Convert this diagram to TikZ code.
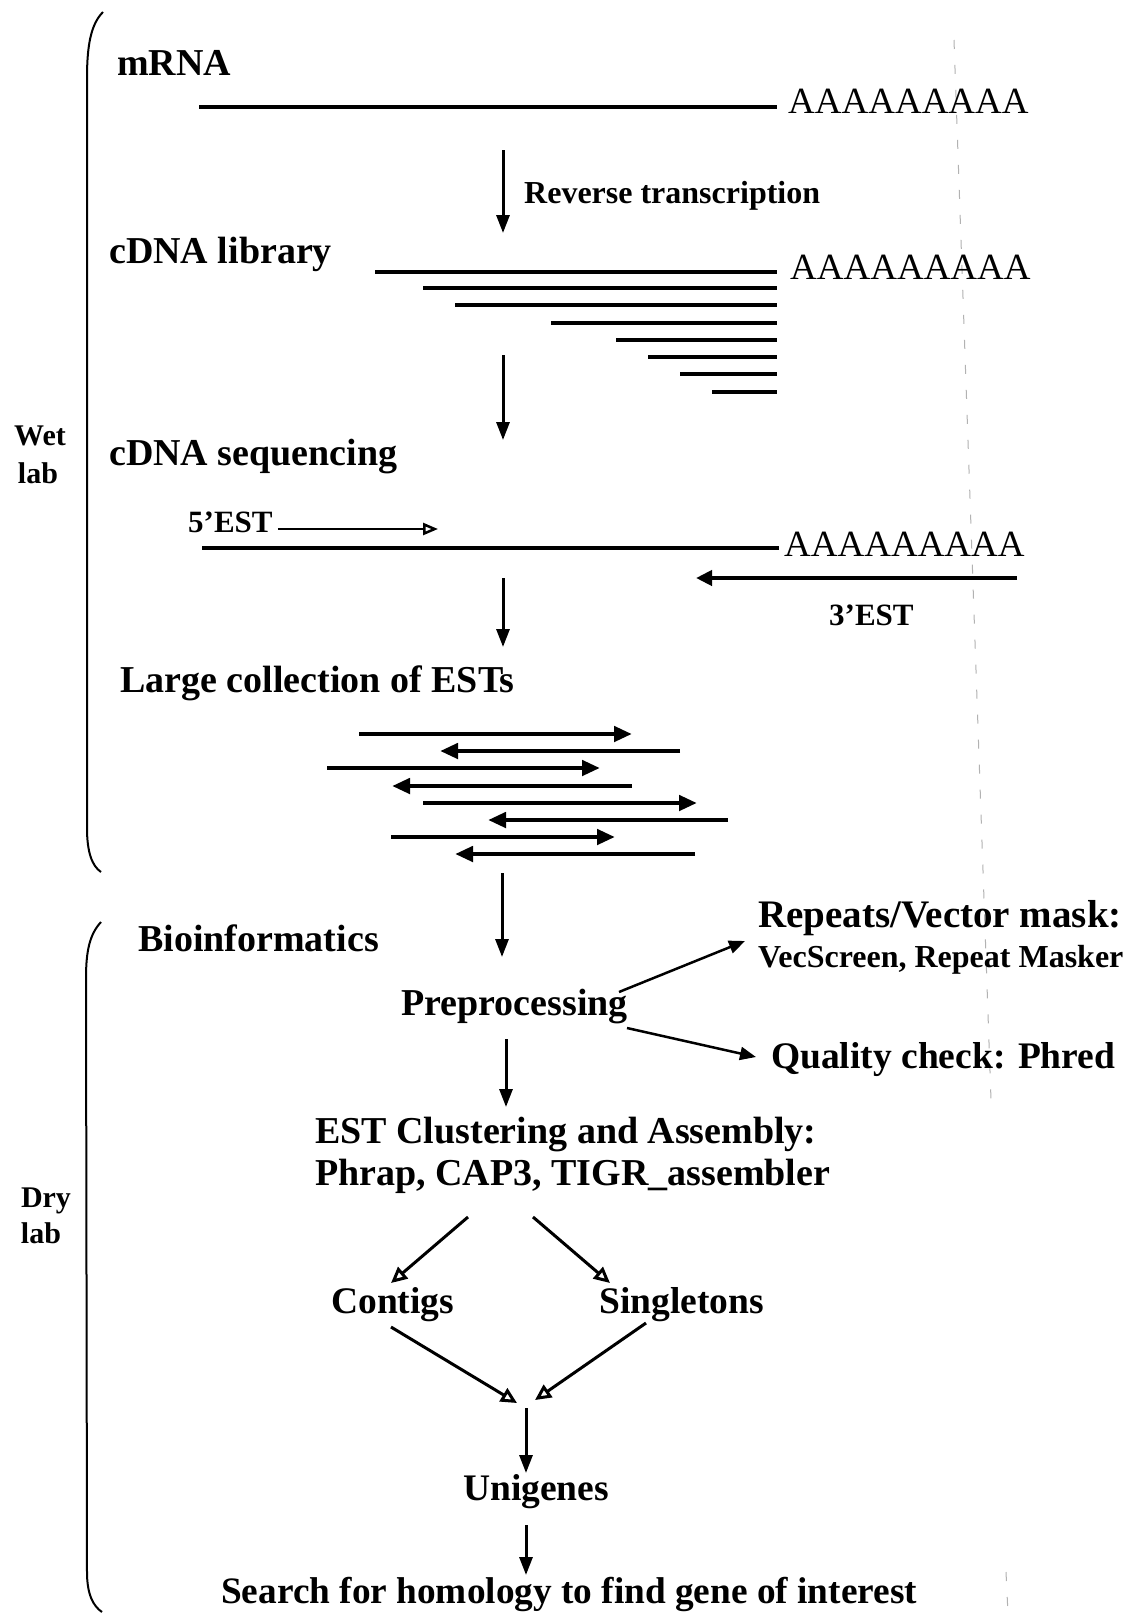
\documentclass[tikz,border=0pt]{standalone}
\usepackage{fontspec}
\setmainfont{Liberation Serif}
\usetikzlibrary{arrows.meta}
\begin{document}
\begin{tikzpicture}[x=1pt,y=-1pt,
  lbl/.style={inner sep=0pt, anchor=base west, font=\bfseries\fontsize{38}{45}\selectfont},
  lblsm/.style={inner sep=0pt, anchor=base west, font=\bfseries\fontsize{32}{38}\selectfont},
  polya/.style={inner sep=0pt, anchor=base west, font=\fontsize{37}{44}\selectfont},
  sidelbl/.style={inner sep=0pt, anchor=base, font=\bfseries\fontsize{30}{36}\selectfont},
  strand/.style={line width=4pt},
  down/.style={line width=3pt, -{Triangle[length=18pt,width=13pt]}},
  thinarr/.style={line width=2.5pt, -{Triangle[length=16pt,width=13pt]}},
  estarr/.style={line width=4.5pt, -{Triangle[length=18pt,width=15pt]}},
  opentip/.style={line width=3pt, -{Triangle[open,length=16pt,width=15pt]}},
  bracketline/.style={line width=2pt},
  scanline/.style={gray!60, line width=1pt, dash pattern=on 9pt off 16pt},
]
\useasboundingbox (0,0) rectangle (1138,1614);
\fill[white] (0,0) rectangle (1138,1614);

% faint scan line
\coordinate (s1) at (954,40);
\coordinate (s2) at (991,1100);
\coordinate (s3) at (1006,1572);
\coordinate (s4) at (1008,1614);
\draw[scanline] (s1) -- (s2);
\draw[scanline] (s3) -- (s4);

% brackets
\draw[bracketline] (103,12) .. controls (91,24) and (87,45) .. (87,78) -- (87,828) .. controls (87,852) and (92,866) .. (101,872);
\draw[bracketline] (101,922) .. controls (90,934) and (86,950) .. (86,978) -- (87,1572) .. controls (87,1594) and (93,1606) .. (102,1612);
\node[sidelbl] (wet) at (40,445) {Wet};
\node[sidelbl] (wetlab) at (38,483) {lab};
\node[sidelbl] (dry) at (46,1207) {Dry};
\node[sidelbl] (drylab) at (41,1243) {lab};

% mRNA
\node[lbl] (mrna) at (117,75) {mRNA};
\coordinate (m1) at (199,107);
\coordinate (m2) at (777,107);
\draw[strand] (m1) -- (m2);
\node[polya] (polyA1) at (788,113) {AAAAAAAAA};

\coordinate (a1s) at (503,150);
\coordinate (a1e) at (503,233);
\draw[down] (a1s) -- (a1e);
\node[lbl, font=\bfseries\fontsize{32}{38}\selectfont] (rt) at (524,203) {Reverse transcription};

% cDNA library
\node[lbl] (cdnalib) at (109,263) {cDNA library};
\foreach \i/\xl/\yy in {1/375/272, 2/423/288, 3/455/305, 4/551/323, 5/616/340, 6/648/357, 7/680/374, 8/712/392}{
  \coordinate (cl\i) at (\xl,\yy);
  \coordinate (cr\i) at (777,\yy);
  \draw[strand] (cl\i) -- (cr\i);
}
\node[polya] (polyA2) at (790,279) {AAAAAAAAA};

\coordinate (a2s) at (503,355);
\coordinate (a2e) at (503,440);
\draw[down] (a2s) -- (a2e);

% cDNA sequencing
\node[lbl] (cdnaseq) at (109,465) {cDNA sequencing};
\node[lblsm, font=\bfseries\fontsize{31}{37}\selectfont] (est5) at (188,532) {5’EST};
\coordinate (e5e) at (438,529);
\draw[line width=2.5pt, -{Triangle[open,length=15pt,width=12pt]}] (est5.east |- e5e) ++(5,0) -- (e5e);
\coordinate (q1) at (202,548);
\coordinate (q2) at (779,548);
\draw[strand] (q1) -- (q2);
\node[polya] (polyA3) at (784,556) {AAAAAAAAA};
\coordinate (e3s) at (1017,578);
\coordinate (e3e) at (696,578);
\draw[line width=4pt, -{Triangle[length=16pt,width=15pt]}] (e3s) -- (e3e);
\node[lblsm, font=\bfseries\fontsize{31}{37}\selectfont] (est3) at (829,625) {3’EST};

\coordinate (a3s) at (503,578);
\coordinate (a3e) at (503,647);
\draw[down] (a3s) -- (a3e);

% Large collection
\node[lbl] (large) at (120,692) {Large collection of ESTs};
\foreach \i/\xa/\xb/\yy in {1/359/632/734, 2/680/440/751, 3/327/600/768, 4/632/392/786, 5/423/697/803, 6/728/488/820, 7/391/615/837, 8/695/455/854}{
  \coordinate (es\i) at (\xa,\yy);
  \coordinate (ee\i) at (\xb,\yy);
  \draw[estarr] (es\i) -- (ee\i);
}

\coordinate (a4s) at (502,873);
\coordinate (a4e) at (502,957);
\draw[down] (a4s) -- (a4e);

% Bioinformatics
\node[lbl] (bio) at (138,951) {Bioinformatics};
\node[lbl] (prep) at (401,1015) {Preprocessing};
\node[lbl, font=\bfseries\fontsize{39}{46}\selectfont] (rep) at (758,927) {Repeats/Vector mask:};
\node[lblsm] (vec) at (758,967) {VecScreen, Repeat Masker};
\node[lbl, font=\bfseries\fontsize{37.5}{45}\selectfont] (qual) at (771,1068) {Quality check: Phred};
\coordinate (p1s) at (619,992);
\coordinate (p1e) at (745,941);
\draw[thinarr] (p1s) -- (p1e);
\coordinate (p2s) at (627,1028);
\coordinate (p2e) at (756,1057);
\draw[thinarr] (p2s) -- (p2e);

\coordinate (a5s) at (506,1039);
\coordinate (a5e) at (506,1107);
\draw[down] (a5s) -- (a5e);

\node[lbl] (clust) at (315,1143) {EST Clustering and Assembly:};
\node[lbl] (tools) at (315,1185) {Phrap, CAP3, TIGR\_assembler};

\coordinate (d1s) at (468,1217);
\coordinate (d1e) at (391,1283);
\coordinate (d2s) at (533,1217);
\coordinate (d2e) at (610,1283);
\draw[opentip] (d1s) -- (d1e);
\draw[opentip] (d2s) -- (d2e);

\node[lbl, font=\bfseries\fontsize{37.5}{45}\selectfont] (contigs) at (331,1313) {Contigs};
\node[lbl, font=\bfseries\fontsize{37.5}{45}\selectfont] (single) at (599,1313) {Singletons};

\coordinate (c1s) at (391,1327);
\coordinate (c1e) at (517,1403);
\coordinate (c2s) at (646,1323);
\coordinate (c2e) at (535,1400);
\draw[opentip] (c1s) -- (c1e);
\draw[opentip] (c2s) -- (c2e);

\coordinate (a6s) at (526,1408);
\coordinate (a6e) at (526,1473);
\draw[down] (a6s) -- (a6e);
\node[lbl, font=\bfseries\fontsize{37.5}{45}\selectfont] (uni) at (463,1500) {Unigenes};

\coordinate (a7s) at (526,1525);
\coordinate (a7e) at (526,1575);
\draw[down] (a7s) -- (a7e);
\node[lbl, font=\bfseries\fontsize{37.3}{45}\selectfont] (search) at (221,1603) {Search for homology to find gene of interest};
\end{tikzpicture}
\end{document}
